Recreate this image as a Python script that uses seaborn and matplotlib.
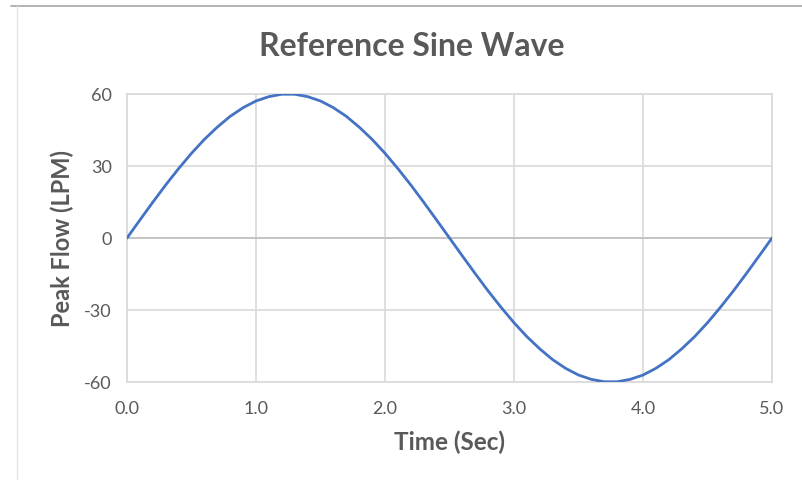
import matplotlib
matplotlib.use("Agg")
import matplotlib.pyplot as plt
import seaborn as sns
import pandas as pd
from matplotlib.lines import Line2D

# values (0.1 s steps)
time_sec = [0.0, 0.1, 0.2, 0.3, 0.4, 0.5, 0.6, 0.7, 0.8, 0.9,
            1.0, 1.1, 1.2, 1.3, 1.4, 1.5, 1.6, 1.7, 1.8, 1.9,
            2.0, 2.1, 2.2, 2.3, 2.4, 2.5, 2.6, 2.7, 2.8, 2.9,
            3.0, 3.1, 3.2, 3.3, 3.4, 3.5, 3.6, 3.7, 3.8, 3.9,
            4.0, 4.1, 4.2, 4.3, 4.4, 4.5, 4.6, 4.7, 4.8, 4.9, 5.0]
peak_flow = [0.0, 7.5, 14.9, 22.1, 28.9, 35.3, 41.1, 46.2, 50.7, 54.3,
             57.1, 58.9, 59.9, 59.9, 58.9, 57.1, 54.3, 50.7, 46.2, 41.1,
             35.3, 28.9, 22.1, 14.9, 7.5, 0.0, -7.5, -14.9, -22.1, -28.9,
             -35.3, -41.1, -46.2, -50.7, -54.3, -57.1, -58.9, -59.9, -59.9, -58.9,
             -57.1, -54.3, -50.7, -46.2, -41.1, -35.3, -28.9, -22.1, -14.9, -7.5, 0.0]
x_ticks = [0.0, 1.0, 2.0, 3.0, 4.0, 5.0]
y_ticks = [-60, -30, 0, 30, 60]

df = pd.DataFrame({"Time": time_sec, "Flow": peak_flow})

sns.set_style("white")
plt.rcParams['font.family'] = ['Lato', 'DejaVu Sans']
plt.rcParams['axes.unicode_minus'] = False

text_gray = '#595959'
grid_gray = '#d9d9d9'

fig = plt.figure(figsize=(8.03, 4.81), dpi=100)
ax = fig.add_axes([127 / 803, 1 - 383 / 481, 645 / 803, 288 / 481])

ax.set_xlim(0, 5)
ax.set_ylim(-60, 60)
ax.set_xticks(x_ticks)
ax.set_xticklabels([f'{t:.1f}' for t in x_ticks])
ax.set_yticks(y_ticks)
ax.grid(True, color=grid_gray, linewidth=1.2)
ax.axhline(0, color='#c4c4c4', linewidth=1.4, zorder=1)
for s in ax.spines.values():
    s.set_color(grid_gray)
    s.set_linewidth(1.2)

sns.lineplot(data=df, x="Time", y="Flow", ax=ax, color='#4472C4', linewidth=2.0, zorder=3)

ax.tick_params(axis='both', length=0, labelsize=13, labelcolor=text_gray)
ax.tick_params(axis='x', pad=13)
ax.tick_params(axis='y', pad=11)

ax.set_xlabel('Time (Sec)', fontsize=17.5, fontweight='bold', color=text_gray, va='center')
ax.xaxis.set_label_coords(0.5, (383 - 442) / 288)
ax.set_ylabel('Peak Flow (LPM)', fontsize=17, fontweight='bold', color=text_gray, va='center')
ax.yaxis.set_label_coords((62 - 127) / 645, 0.5)

fig.text(412 / 803, 1 - 47 / 481, 'Reference Sine Wave', fontsize=23, fontweight='bold',
         color=text_gray, ha='center', va='center')

# chart frame pieces visible in the screenshot
fig.add_artist(Line2D([11 / 803, 1], [1 - 7 / 481, 1 - 7 / 481], color='#a6a6a6', linewidth=1.2))
fig.add_artist(Line2D([17 / 803, 17 / 803], [0, 1 - 7 / 481], color='#e6e6e6', linewidth=1.0))

fig.savefig('out.png', dpi=100)
